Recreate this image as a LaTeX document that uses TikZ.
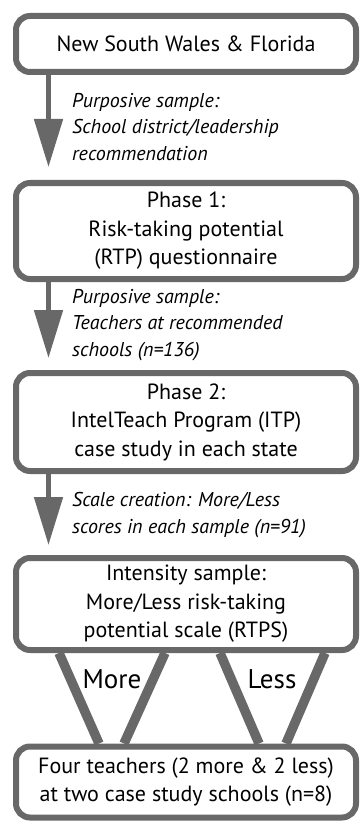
\documentclass[tikz,border=0pt]{standalone}
\usepackage{fontspec}
\setmainfont{PT Sans}
\usetikzlibrary{arrows.meta}
\definecolor{edgegray}{RGB}{104,104,104}
\tikzset{box/.style={draw=edgegray,line width=6pt,rounded corners=14pt,fill=white,minimum width=340pt,align=center,inner sep=0pt,font=\fontsize{22}{28.5}\selectfont},
  lab/.style={anchor=west,align=left,inner sep=0pt,font=\itshape\fontsize{20}{26.5}\selectfont},
  flow/.style={draw=edgegray,line width=5pt,-{Triangle[length=48pt,width=28pt]}},
  funnel/.style={draw=edgegray,line width=9.5pt},
  side/.style={inner sep=0pt,font=\fontsize{27}{30}\selectfont}}
\begin{document}
\begin{tikzpicture}[x=1pt,y=-1pt]
  \useasboundingbox (0,0) rectangle (360,821);
  % boxes
  \node[box,minimum height=56pt] (nsw) at (186,44) {New South Wales \& Florida};
  \node[box,minimum height=96pt] (ph1) at (186,231) {Phase 1:\\Risk-taking potential\\(RTP) questionnaire};
  \node[box,minimum height=98pt] (ph2) at (186,422) {Phase 2:\\IntelTeach Program (ITP)\\case study in each state};
  \node[box,minimum height=92pt] (ints) at (186,604) {Intensity sample:\\More/Less risk-taking\\potential scale (RTPS)};
  \node[box,minimum height=71pt] (four) at (186,782) {Four teachers (2 more \& 2 less)\\at two case study schools (n=8)};
  % arrows between phases
  \draw[flow] (nsw.south -| 48.5,0) -- (ph1.north -| 48.5,0) [shorten >=13pt];
  \draw[flow] (ph1.south -| 48.5,0) -- (ph2.north -| 48.5,0) [shorten >=12pt];
  \draw[flow] (ph2.south -| 48.5,0) -- (ints.north -| 48.5,0) [shorten >=10pt];
  \node[lab] (l1) at (72,127) {Purposive sample:\\School district/leadership\\recommendation};
  \node[lab] (l2) at (72,325) {Purposive sample:\\Teachers at recommended\\schools (n=136)};
  \node[lab] (l3) at (72,515) {Scale creation: More/Less\\scores in each sample (n=91)};
  % more / less funnels
  \draw[funnel] (ints.south -| 59,0) -- (four.north -| 99,0) (ints.south -| 165,0) -- (four.north -| 124,0);
  \draw[funnel] (ints.south -| 220,0) -- (four.north -| 259,0) (ints.south -| 325,0) -- (four.north -| 286,0);
  \node[side] (more) at (112,679) {More}; \node[side] (less) at (272,679) {Less};
\end{tikzpicture}
\end{document}
